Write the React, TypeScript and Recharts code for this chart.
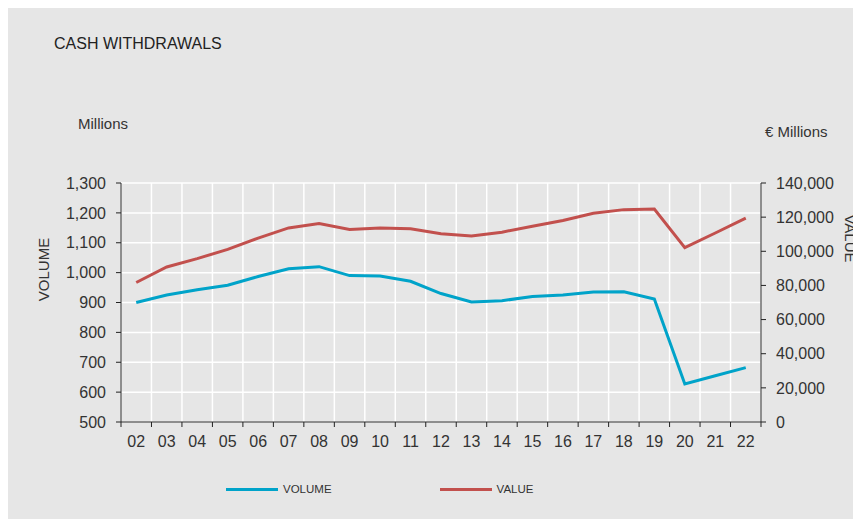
import { LineChart, Line, XAxis, YAxis, CartesianGrid, Legend, Label } from "recharts";

const YEARS = ["02", "03", "04", "05", "06", "07", "08", "09", "10", "11", "12", "13", "14", "15", "16", "17", "18", "19", "20", "21", "22"];
const VOLUME = [900, 925, 943, 958, 987, 1013, 1020, 990, 989, 971, 930, 902, 906, 920, 925, 935, 936, 912, 627, 655, 682];
const VALUE = [81700, 90800, 95700, 101100, 107700, 113700, 116300, 112800, 113700, 113200, 110300, 108900, 111200, 114700, 118000, 122300, 124400, 124800, 102100, 110700, 119400];
const LEFT_TICKS = [500, 600, 700, 800, 900, 1000, 1100, 1200, 1300];
const RIGHT_TICKS = [0, 20000, 40000, 60000, 80000, 100000, 120000, 140000];

const DATA = YEARS.map((year, i) => ({ i, year, volume: VOLUME[i], value: VALUE[i] }));
const IDX = YEARS.map((_, i) => i);
const BOUNDS = [...IDX.map((i) => i - 0.5), YEARS.length - 0.5];

const TEAL = "#00a3c9";
const RED = "#c2504d";
const INK = "#333";
const FONT = '"Liberation Sans", Arial, Helvetica, sans-serif';

const fmt = (v: number) => v.toLocaleString("en-US");

function LegendBox() {
  const item = (color: string, text: string, gap: number) => (
    <div style={{ display: "flex", alignItems: "center", marginRight: gap }}>
      <div style={{ width: 52, height: 3, background: color, marginRight: 5 }} />
      <span style={{ fontSize: 11.5, color: INK, lineHeight: "14px" }}>{text}</span>
    </div>
  );
  return (
    <div style={{ display: "flex", fontFamily: FONT }}>
      {item(TEAL, "VOLUME", 108)}
      {item(RED, "VALUE", 0)}
    </div>
  );
}

export default function App() {
  return (
    <div style={{ position: "relative", width: 853, height: 511, background: "#e6e6e6", fontFamily: FONT, color: INK }}>
      <div style={{ position: "absolute", left: 46, top: 27.5, fontSize: 16, lineHeight: "16px", color: "#222" }}>
        CASH WITHDRAWALS
      </div>
      <div style={{ position: "absolute", left: 70, top: 108, fontSize: 15, lineHeight: "15px" }}>Millions</div>
      <div style={{ position: "absolute", left: 757, top: 116, fontSize: 15, lineHeight: "15px" }}>€ Millions</div>
      <LineChart
        width={853}
        height={511}
        data={DATA}
        margin={{ top: 175, right: 40, left: 53, bottom: 51 }}
        style={{ position: "absolute", left: 0, top: 0 }}
      >
        <CartesianGrid xAxisId="grid" yAxisId="left" stroke="#ffffff" strokeWidth={1.5} verticalPoints={undefined} />
        <XAxis
          xAxisId="grid"
          type="number"
          dataKey="i"
          domain={[-0.5, YEARS.length - 0.5]}
          ticks={BOUNDS}
          tickFormatter={() => ""}
          tickSize={5}
          height={6}
          axisLine={{ stroke: "#222" }}
          tickLine={{ stroke: "#222" }}
          interval={0}
        />
        <XAxis
          xAxisId="lab"
          type="number"
          dataKey="i"
          domain={[-0.5, YEARS.length - 0.5]}
          ticks={IDX}
          tickFormatter={(i: number) => YEARS[i]}
          axisLine={false}
          tickLine={false}
          tick={{ fontSize: 16, fill: INK, fontFamily: FONT }}
          height={40}
          interval={0}
        />
        <YAxis
          yAxisId="left"
          domain={[500, 1300]}
          ticks={LEFT_TICKS}
          tickFormatter={fmt}
          width={60}
          tickSize={5}
          tickMargin={10}
          axisLine={{ stroke: "#222" }}
          tickLine={{ stroke: "#222" }}
          tick={{ fontSize: 16, fill: INK, fontFamily: FONT }}
          interval={0}
        >
          <Label value="VOLUME" position="center" angle={-90} dx={-47} dy={-33} style={{ fontSize: 15, fill: INK, fontFamily: FONT }} />
        </YAxis>
        <YAxis
          yAxisId="right"
          orientation="right"
          domain={[0, 140000]}
          ticks={RIGHT_TICKS}
          tickFormatter={fmt}
          width={60}
          tickSize={5}
          tickMargin={10}
          axisLine={{ stroke: "#222" }}
          tickLine={{ stroke: "#222" }}
          tick={{ fontSize: 16, fill: INK, fontFamily: FONT }}
          interval={0}
        >
          <Label value="VALUE" position="center" angle={90} dx={59} dy={-64} style={{ fontSize: 15, fill: INK, fontFamily: FONT }} />
        </YAxis>
        <Legend
          layout="horizontal"
          verticalAlign="middle"
          wrapperStyle={{ left: 218, top: 474, width: 420 }}
          content={() => <LegendBox />}
        />
        <Line
          xAxisId="lab"
          yAxisId="left"
          dataKey="volume"
          name="VOLUME"
          stroke={TEAL}
          strokeWidth={3}
          dot={false}
          isAnimationActive={false}
        />
        <Line
          xAxisId="lab"
          yAxisId="right"
          dataKey="value"
          name="VALUE"
          stroke={RED}
          strokeWidth={3}
          dot={false}
          isAnimationActive={false}
        />
      </LineChart>
    </div>
  );
}
